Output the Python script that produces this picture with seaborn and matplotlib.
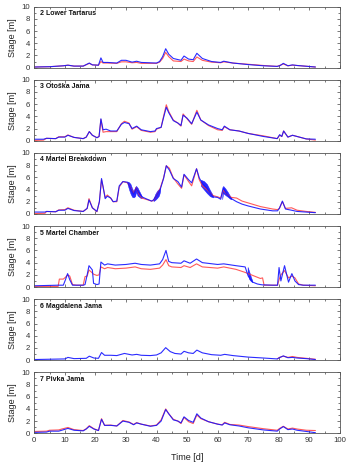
import numpy as np
import seaborn as sns
import matplotlib.pyplot as plt
from matplotlib.ticker import MultipleLocator

# -----------------------------------------------------------------------------
# Stage hydrographs (blue and red series per site)
# -----------------------------------------------------------------------------

titles = ["2 Lower Tartarus", "3 Otoška Jama", "4 Martel Breakdown",
          "5 Martel Chamber", "6 Magdalena Jama", "7 Pivka Jama"]

# 2 Lower Tartarus
t1 = [0, 5, 9.5, 11, 13, 16, 18, 19, 21, 21.8,
      22.5, 24, 27, 28.5, 30, 32, 33.5, 35, 40, 41,
      42, 43, 44, 45.5, 48, 49, 50.5, 52, 53.2, 55,
      58, 61, 62, 65, 70, 75, 79.5, 80.5, 81.5, 83,
      84.5, 86, 92]
blue1 = [0.1, 0.15, 0.3, 0.4, 0.25, 0.25, 0.75, 0.45, 0.4, 1.6,
         0.85, 0.85, 0.75, 1.2, 1.2, 0.9, 1.05, 0.85, 0.75, 1.0,
         1.8, 3.1, 2.2, 1.5, 1.2, 1.9, 1.4, 1.3, 2.35, 1.5,
         1.0, 0.85, 1.05, 0.75, 0.5, 0.3, 0.2, 0.35, 0.7, 0.3,
         0.45, 0.35, 0.1]
red1 = [0.1, 0.15, 0.3, 0.4, 0.25, 0.25, 0.7, 0.45, 0.4, 1.0,
        0.75, 0.75, 0.7, 0.95, 0.95, 0.8, 0.85, 0.7, 0.7, 0.9,
        1.5, 2.5, 1.8, 1.1, 1.0, 1.4, 1.1, 1.0, 1.75, 1.2,
        0.9, 0.8, 0.95, 0.75, 0.55, 0.35, 0.2, 0.4, 0.6, 0.3,
        0.4, 0.35, 0.1]

# 3 Otoška Jama
t2 = [0, 3, 4, 7, 8, 10, 11, 13, 16, 17,
      18, 19, 20.5, 21.2, 21.8, 22.5, 23.5, 25, 27, 28.5,
      29.5, 31, 32, 33.5, 35, 38, 39.5, 40, 41.5, 42.3,
      43.2, 44, 45.5, 47, 48, 48.7, 50, 51.5, 53.2, 54.5,
      57, 60, 61.5, 62.2, 64, 67, 70, 75, 79.5, 80.3,
      81, 81.6, 83, 84.5, 86, 89, 92]
blue2 = [0.25, 0.25, 0.4, 0.35, 0.6, 0.6, 0.9, 0.55, 0.35, 0.6,
         1.5, 0.9, 0.5, 0.7, 3.6, 1.8, 1.9, 1.6, 1.6, 2.7,
         3.0, 2.8, 2.0, 2.4, 1.8, 1.5, 1.6, 2.0, 2.2, 3.8,
         5.5, 4.6, 3.3, 2.9, 2.5, 4.2, 3.7, 2.8, 4.7, 3.4,
         2.6, 2.0, 1.8, 2.4, 1.8, 1.6, 1.2, 0.7, 0.35, 1.0,
         0.7, 1.6, 0.6, 0.9, 0.7, 0.3, 0.25]
red2 = [0.05, 0.1, 0.4, 0.35, 0.65, 0.65, 0.95, 0.55, 0.35, 0.6,
        1.5, 0.9, 0.5, 0.7, 3.5, 1.4, 1.5, 1.5, 1.5, 2.8,
        3.2, 2.9, 1.9, 2.3, 1.7, 1.4, 1.5, 1.9, 2.2, 4.0,
        5.9, 4.8, 3.4, 2.9, 2.4, 4.4, 3.6, 2.7, 5.0, 3.4,
        2.5, 1.8, 1.7, 2.3, 1.8, 1.6, 1.2, 0.8, 0.35, 0.9,
        0.7, 1.6, 0.6, 0.9, 0.7, 0.3, 0.1]

# 4 Martel Breakdown
t3 = [0, 3.5, 4, 7, 8, 10, 11, 13, 16, 17.3,
      17.9, 19, 20.5, 21.3, 22, 22.5, 23.2, 23.9, 25, 25.8,
      27, 27.8, 29, 30.5, 31.5, 32.5, 33.3, 34.3, 35.2, 36.5,
      38.4, 39, 40, 41.2, 42.3, 43.2, 44.2, 45.5, 47, 48.2,
      49, 50.5, 51.5, 53.1, 54, 55, 56.5, 58.5, 60, 61,
      61.8, 63, 64.5, 66.2, 68, 70, 74, 78, 79.6, 80.2,
      81.2, 82.2, 84.2, 86, 89, 92]
blue3 = [0.3, 0.3, 0.4, 0.35, 0.6, 0.6, 0.9, 0.55, 0.4, 0.9,
         2.3, 1.0, 0.4, 2.0, 5.8, 4.5, 2.5, 2.9, 2.6, 2.0,
         2.1, 4.6, 5.3, 5.2, 4.2, 3.2, 4.2, 3.4, 2.8, 2.5,
         2.1, 2.3, 3.0, 4.0, 5.8, 7.9, 7.2, 5.8, 5.3, 4.4,
         6.5, 5.6, 5.1, 7.4, 5.9, 5.0, 4.2, 2.8, 2.7, 2.4,
         4.3, 3.2, 2.5, 2.0, 1.6, 1.3, 0.8, 0.5, 0.5, 0.9,
         2.1, 0.8, 0.6, 0.4, 0.3, 0.2]
red3 = [0.05, 0.1, 0.4, 0.35, 0.65, 0.7, 1.0, 0.6, 0.4, 0.9,
        2.5, 1.0, 0.35, 2.0, 5.6, 4.4, 2.7, 3.1, 2.6, 2.0,
        2.0, 4.4, 5.3, 5.1, 4.3, 3.4, 4.3, 3.2, 2.6, 2.4,
        2.1, 2.2, 3.0, 4.2, 5.9, 7.9, 7.5, 5.9, 4.9, 4.2,
        6.4, 5.3, 4.6, 7.4, 5.6, 4.6, 4.0, 3.0, 2.8, 2.6,
        3.9, 3.2, 2.7, 2.6, 2.1, 1.8, 1.2, 0.8, 0.7, 0.9,
        2.0, 0.9, 1.0, 0.6, 0.4, 0.25]
# fast oscillation envelopes of the blue record
band3 = [
    ([30.5, 31.0, 31.5, 32.0, 32.5, 33.0, 33.3, 33.8, 34.3, 34.8, 35.2],
     [4.9, 4.0, 3.3, 2.8, 2.7, 2.9, 3.6, 3.0, 2.8, 2.6, 2.6],
     [5.3, 5.2, 4.9, 4.2, 3.7, 4.4, 4.6, 4.3, 3.8, 3.3, 2.9]),
    ([39.0, 39.6, 40.2, 40.8, 41.2],
     [2.1, 2.3, 2.6, 3.0, 3.7],
     [2.5, 3.3, 3.8, 4.1, 4.3]),
    ([54.5, 55.5, 56.5, 57.5, 58.5],
     [4.6, 4.0, 3.4, 2.9, 2.7],
     [5.6, 5.4, 4.9, 3.9, 3.0]),
    ([61.5, 61.8, 62.5, 63.3, 64.0, 64.5],
     [2.4, 3.4, 3.1, 2.8, 2.5, 2.4],
     [3.6, 4.6, 4.2, 3.6, 3.0, 2.6]),
]

# 5 Martel Chamber
t4 = [0, 7.8, 8.2, 9.5, 10.2, 10.9, 11.6, 12.5, 13.8, 16,
      16.6, 17.3, 17.9, 19, 19.4, 20.5, 21.2, 21.8, 23, 24,
      26.5, 30, 33, 35, 38, 41, 42, 43.1, 44, 45,
      48, 49, 51, 53.1, 55, 60, 62, 66, 69, 70,
      71.5, 73, 74, 74.7, 75.2, 78, 79.6, 80.1, 80.7, 81.9,
      83.2, 84.3, 85.3, 86.5, 88, 92]
blue4 = [0.2, 0.3, 0.3, 0.3, 1.2, 2.2, 1.2, 0.3, 0.3, 0.3,
         0.4, 2.0, 3.5, 2.8, 0.6, 0.4, 0.5, 4.1, 3.6, 3.8,
         3.6, 3.7, 3.9, 3.7, 3.6, 3.8, 4.5, 6.0, 4.2, 4.0,
         3.9, 4.3, 3.9, 4.6, 4.0, 3.7, 3.8, 3.5, 3.3, 1.8,
         0.8, 0.5, 0.4, 0.35, 0.35, 0.3, 0.3, 3.2, 1.0, 3.5,
         0.8, 2.2, 1.0, 0.4, 0.3, 0.3]
red4 = [0.1, 0.1, 1.3, 1.3, 1.6, 2.0, 1.8, 0.4, 0.3, 0.3,
        1.7, 1.8, 2.8, 2.3, 2.1, 1.9, 2.0, 3.3, 3.0, 3.2,
        3.0, 3.1, 3.3, 3.0, 2.9, 3.1, 3.6, 4.5, 3.5, 3.3,
        3.2, 3.5, 3.2, 3.8, 3.3, 3.1, 3.3, 2.9, 2.4, 2.2,
        1.9, 1.6, 1.4, 1.5, 0.3, 0.3, 0.3, 1.2, 2.0, 2.7,
        1.5, 1.8, 1.5, 0.5, 0.3, 0.2]
band4 = [
    ([69.8, 70.3, 70.8, 71.3],
     [2.2, 1.3, 1.0, 0.8],
     [3.3, 2.6, 1.8, 1.1]),
]

# 6 Magdalena Jama (red only visible at the end)
t5 = [0, 10, 11, 13, 17, 18, 19.5, 21, 22, 23,
      25, 27, 29.5, 32, 33.5, 35, 38, 40, 41.5, 43,
      44.5, 46, 48, 49, 50.5, 52, 53.2, 55, 58, 61,
      62.3, 65, 70, 75, 79.5, 80.2, 81.5, 83, 84.5, 86,
      89, 92]
blue5 = [0.1, 0.2, 0.45, 0.25, 0.3, 0.65, 0.35, 0.3, 1.25, 0.8,
         0.8, 0.75, 1.1, 0.85, 0.95, 0.8, 0.75, 0.85, 1.2, 2.05,
         1.4, 1.1, 1.0, 1.45, 1.2, 1.1, 1.65, 1.2, 0.9, 0.8,
         0.95, 0.75, 0.5, 0.35, 0.2, 0.4, 0.7, 0.4, 0.45, 0.35,
         0.25, 0.1]
red5 = [np.nan] * 34 + [0.2, 0.45, 0.65, 0.45, 0.6, 0.45, 0.3, 0.15]

# 7 Pivka Jama
t6 = [0, 4, 5, 8, 9, 11, 13, 16, 17, 18,
      19.5, 21, 22, 23, 25, 27, 29, 31, 32.5, 33.5,
      35, 38, 40, 41.5, 43, 44, 45.5, 47, 48, 49,
      50.5, 52, 53.2, 54.5, 57, 60, 61.5, 62.3, 64, 67,
      70, 75, 79.5, 80.3, 81.5, 83, 84.5, 86, 89, 92]
blue6 = [0.15, 0.2, 0.35, 0.35, 0.5, 0.8, 0.5, 0.4, 0.7, 1.15,
         0.7, 0.45, 2.3, 1.3, 1.3, 1.2, 2.0, 1.8, 1.4, 1.7,
         1.5, 1.15, 1.3, 2.0, 3.9, 3.2, 2.2, 2.0, 1.7, 2.7,
         2.1, 1.8, 3.2, 2.5, 1.9, 1.5, 1.35, 1.7, 1.4, 1.2,
         0.9, 0.55, 0.35, 0.7, 1.1, 0.6, 0.7, 0.5, 0.3, 0.1]
red6 = [0.3, 0.35, 0.5, 0.55, 0.7, 0.95, 0.6, 0.45, 0.75, 1.25,
        0.75, 0.45, 2.4, 1.3, 1.35, 1.2, 2.1, 1.85, 1.45, 1.75,
        1.5, 1.2, 1.35, 2.2, 4.0, 3.2, 2.3, 2.0, 1.6, 2.6,
        1.9, 1.6, 3.0, 2.4, 1.9, 1.5, 1.4, 1.8, 1.45, 1.35,
        1.1, 0.75, 0.5, 0.8, 1.15, 0.7, 0.85, 0.7, 0.5, 0.45]

times = [t1, t2, t3, t4, t5, t6]
blues = [blue1, blue2, blue3, blue4, blue5, blue6]
reds = [red1, red2, red3, red4, red5, red6]
bands = [[], [], band3, band4, [], []]

BLUE = "#1414ff"
RED = "#ff3c3c"

# =============================================================================
# Plot
# =============================================================================

sns.set_style("ticks")
plt.rcParams["font.family"] = ["Liberation Sans", "DejaVu Sans"]

f, axes = plt.subplots(6, 1, sharex=True, figsize=(3.5, 4.67), dpi=100)
f.subplots_adjust(left=0.098, right=0.971, top=0.9857, bottom=0.0722,
                  hspace=0.2)

for ax, title, t, b, r, bd in zip(axes, titles, times, blues, reds, bands):
    sns.lineplot(x=t, y=r, ax=ax, color=RED, lw=0.8, alpha=0.85)
    for bt, lo, hi in bd:
        ax.fill_between(bt, lo, hi, color=BLUE, lw=0.3, alpha=0.9)
    sns.lineplot(x=t, y=b, ax=ax, color=BLUE, lw=0.8, alpha=0.9)

    ax.set(xlim=(0, 100), ylim=(0, 10))
    ax.set_ylabel("Stage [m]", fontsize=6.5, labelpad=3, color="#222")
    ax.text(0.02, 0.86, title, transform=ax.transAxes, fontsize=5,
            fontweight="bold", color="#111")
    ax.xaxis.set_major_locator(MultipleLocator(10))
    ax.xaxis.set_minor_locator(MultipleLocator(5))
    ax.yaxis.set_major_locator(MultipleLocator(2))
    ax.yaxis.set_minor_locator(MultipleLocator(1))
    ax.tick_params(which="both", direction="in", top=True, right=True,
                   labelsize=5.6, colors="#444", labelcolor="#333", width=0.5)
    ax.tick_params(which="major", length=2.2, pad=3)
    ax.tick_params(which="minor", length=1.2)
    for s in ax.spines.values():
        s.set_linewidth(0.6)
        s.set_color("#555")

axes[-1].set_xlabel("Time [d]", fontsize=6.5, labelpad=6, color="#222")

plt.savefig("out.png", dpi=100)
